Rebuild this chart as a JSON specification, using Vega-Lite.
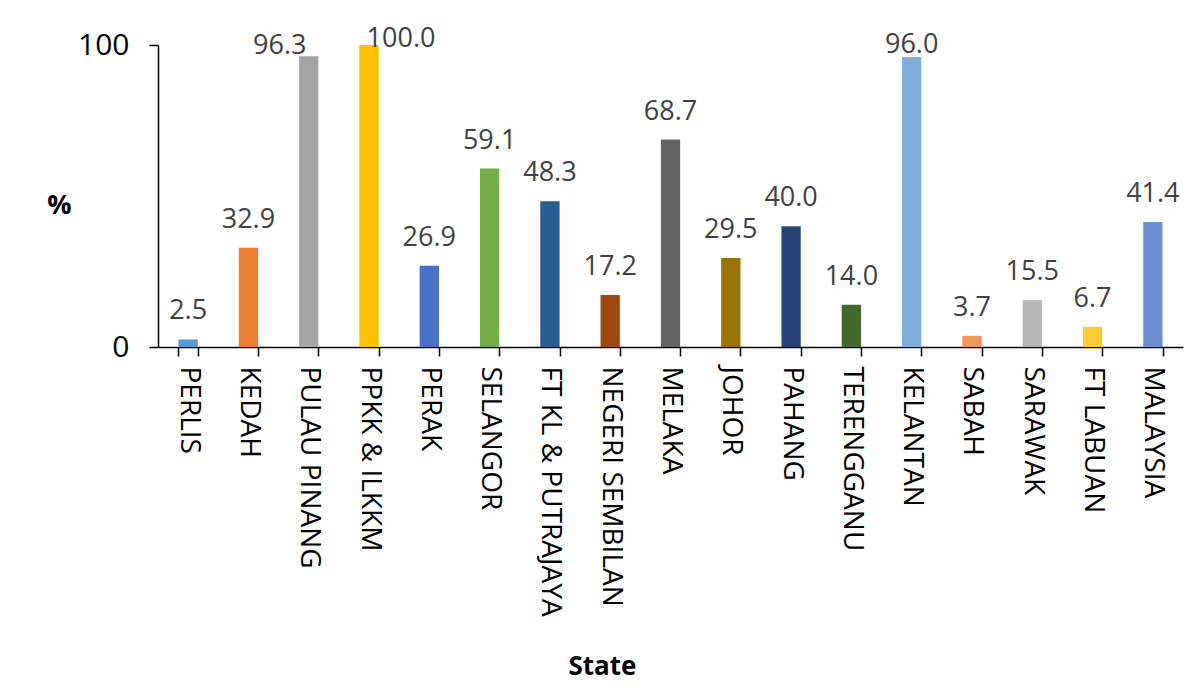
{
  "$schema": "https://vega.github.io/schema/vega-lite/v6.json",
  "autosize": {"type": "none"},
  "width": 1025,
  "height": 302,
  "padding": {"left": 158, "top": 45, "right": 15, "bottom": 351},
  "background": "white",
  "config": {"view": {"stroke": null}, "font": "Open Sans"},
  "data": {"values": [
    {"State": "PERLIS", "Pct": 2.5},
    {"State": "KEDAH", "Pct": 32.9},
    {"State": "PULAU PINANG", "Pct": 96.3},
    {"State": "PPKK & ILKKM", "Pct": 100.0},
    {"State": "PERAK", "Pct": 26.9},
    {"State": "SELANGOR", "Pct": 59.1},
    {"State": "FT KL & PUTRAJAYA", "Pct": 48.3},
    {"State": "NEGERI SEMBILAN", "Pct": 17.2},
    {"State": "MELAKA", "Pct": 68.7},
    {"State": "JOHOR", "Pct": 29.5},
    {"State": "PAHANG", "Pct": 40.0},
    {"State": "TERENGGANU", "Pct": 14.0},
    {"State": "KELANTAN", "Pct": 96.0},
    {"State": "SABAH", "Pct": 3.7},
    {"State": "SARAWAK", "Pct": 15.5},
    {"State": "FT LABUAN", "Pct": 6.7},
    {"State": "MALAYSIA", "Pct": 41.4}
  ]},
  "encoding": {
    "x": {
      "field": "State", "type": "nominal", "sort": null,
      "scale": {"paddingInner": 0.68, "paddingOuter": 0.34},
      "axis": {
        "title": "State", "titleFont": "Open Sans", "titleFontSize": 26, "titleFontWeight": "bold", "titleColor": "black",
        "titleX": 444, "titleY": 319, "titleAlign": "center", "titleBaseline": "middle", "titleAnchor": null,
        "labelAngle": 90, "labelAlign": "left", "labelBaseline": "middle", "labelFontSize": 28, "labelColor": "black",
        "labelPadding": 10, "tickBand": "extent", "tickSize": 9, "tickColor": "black", "tickWidth": 1.5,
        "domainColor": "black", "domainWidth": 1.5, "grid": false, "labelOverlap": false, "labelLimit": 0
      }
    },
    "y": {
      "field": "Pct", "type": "quantitative",
      "scale": {"domain": [0, 100], "nice": false},
      "axis": {
        "title": "%", "titleFontSize": 27, "titleFontWeight": "bold", "titleColor": "black", "titleAngle": 0,
        "titleX": -99, "titleY": 160, "titleAlign": "center", "titleBaseline": "middle",
        "values": [0, 100], "labelFontSize": 30, "labelColor": "black", "labelPadding": 20,
        "tickSize": 9, "tickColor": "black", "tickWidth": 1.5, "domainColor": "black", "domainWidth": 1.5, "grid": false
      }
    }
  },
  "layer": [
    {
      "mark": {"type": "bar"},
      "encoding": {
        "color": {
          "field": "State", "type": "nominal", "legend": null,
          "scale": {
            "domain": ["PERLIS", "KEDAH", "PULAU PINANG", "PPKK & ILKKM", "PERAK", "SELANGOR", "FT KL & PUTRAJAYA", "NEGERI SEMBILAN", "MELAKA", "JOHOR", "PAHANG", "TERENGGANU", "KELANTAN", "SABAH", "SARAWAK", "FT LABUAN", "MALAYSIA"],
            "range": ["#5B9BD5", "#ED7D31", "#A5A5A5", "#FFC000", "#4472C4", "#70AD47", "#255E91", "#9E480E", "#636363", "#997300", "#264478", "#43682B", "#7CAFDD", "#F1975A", "#B7B7B7", "#FFCD33", "#698ED0"]
          }
        }
      }
    },
    {
      "transform": [{"filter": "datum.Pct < 90"}],
      "mark": {"type": "text", "baseline": "alphabetic", "dy": -20, "fontSize": 27, "color": "#404040", "font": "Open Sans"},
      "encoding": {"text": {"field": "Pct", "type": "quantitative", "format": ".1f"}}
    },
    {
      "transform": [{"filter": "datum.State == 'PULAU PINANG'"}],
      "mark": {"type": "text", "baseline": "alphabetic", "dy": -2, "dx": -29, "fontSize": 27, "color": "#404040", "font": "Open Sans"},
      "encoding": {"text": {"field": "Pct", "type": "quantitative", "format": ".1f"}}
    },
    {
      "transform": [{"filter": "datum.State == 'PPKK & ILKKM'"}],
      "mark": {"type": "text", "baseline": "alphabetic", "dy": 2, "dx": 32, "fontSize": 27, "color": "#404040", "font": "Open Sans"},
      "encoding": {"text": {"field": "Pct", "type": "quantitative", "format": ".1f"}}
    },
    {
      "transform": [{"filter": "datum.State == 'KELANTAN'"}],
      "mark": {"type": "text", "baseline": "alphabetic", "dy": -4, "fontSize": 27, "color": "#404040", "font": "Open Sans"},
      "encoding": {"text": {"field": "Pct", "type": "quantitative", "format": ".1f"}}
    }
  ]
}
